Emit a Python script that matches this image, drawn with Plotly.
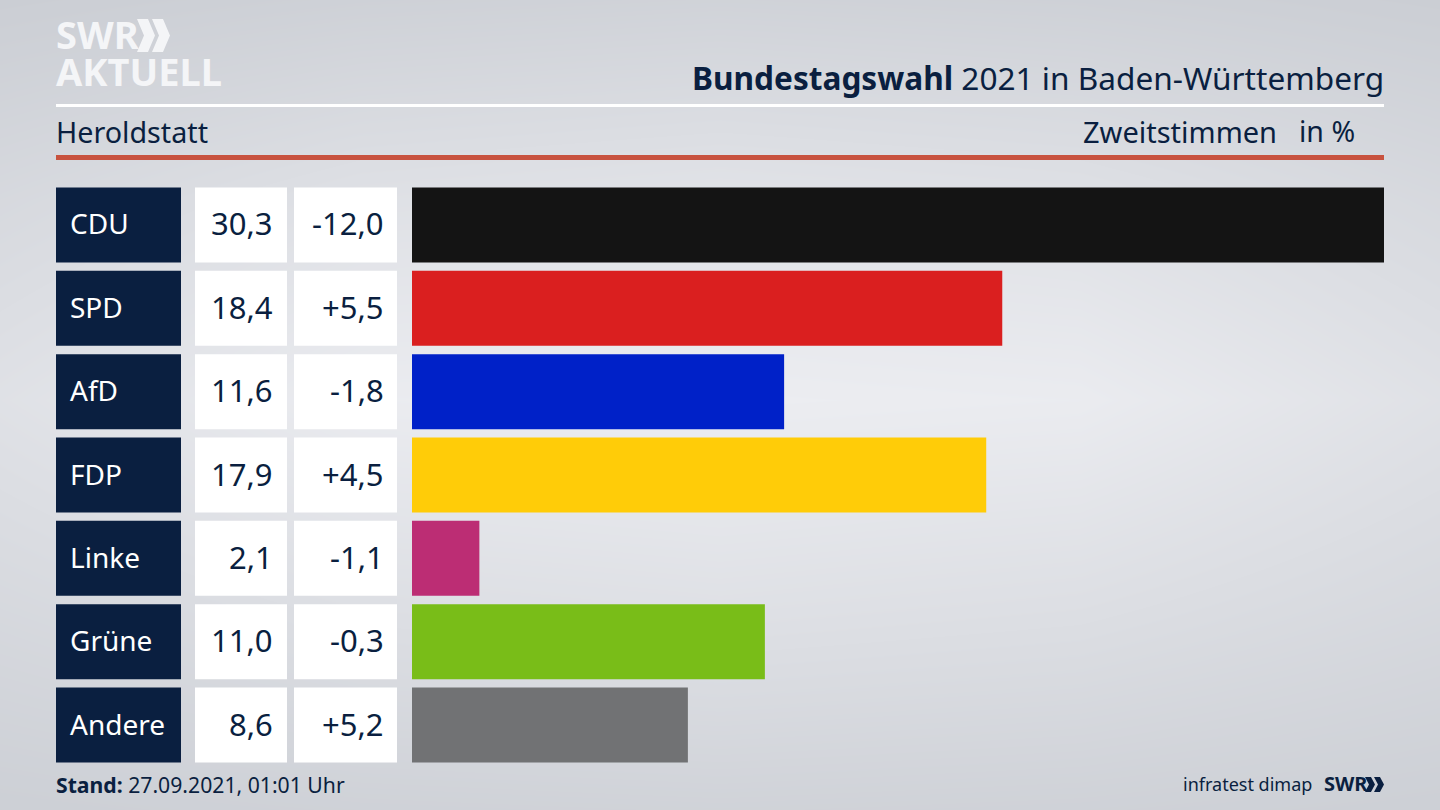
import plotly.graph_objects as go

# Daten
parteien = ['CDU', 'SPD', 'AfD', 'FDP', 'Linke', 'Grüne', 'Andere']
anteil = [30.3, 18.4, 11.6, 17.9, 2.1, 11.0, 8.6]
anteil_text = ['30,3', '18,4', '11,6', '17,9', '2,1', '11,0', '8,6']
diff_text = ['-12,0', '+5,5', '-1,8', '+4,5', '-1,1', '-0,3', '+5,2']
farben = ['#141414', '#da1f1f', '#0021c8', '#ffcc08', '#bc2d74', '#79bd18', '#717274']

DUNKEL = '#0a1f40'
LOGO = '#f4f5f7'
FONT = 'Noto Sans'
W, H = 1440, 810

# Hintergrund: hell in der Mitte, dunkler zu den Raendern
hg = [[0.05, 0.12, 0.15, 0.12, 0.05],
      [0.35, 0.55, 0.62, 0.55, 0.35],
      [0.62, 0.95, 1.00, 0.95, 0.62],
      [0.35, 0.60, 0.68, 0.60, 0.35],
      [0.00, 0.10, 0.15, 0.10, 0.00]]

def px_x(x):
    return x / W

def px_y(y):
    return 1 - y / H

fig = go.Figure()

# Hintergrund
fig.add_trace(go.Heatmap(z=hg, x=[0, 360, 720, 1080, 1440], y=[810, 600, 400, 200, 0],
                         colorscale=[[0, '#cbced4'], [1, '#ecedf1']], zmin=0, zmax=1,
                         zsmooth='best', showscale=False, hoverinfo='skip',
                         xaxis='x', yaxis='y'))

# Balken
fig.add_trace(go.Bar(x=anteil, y=list(range(len(parteien))), orientation='h', marker_color=farben,
                     marker_line_width=0, width=0.9, customdata=parteien,
                     xaxis='x2', yaxis='y2', showlegend=False))

shapes = []
annos = []

def text(x, y, s, size, anchor='left', color=DUNKEL, yref='paper'):
    # Annotationen haben etwa 2px Innenabstand
    x = x - 2 if anchor == 'left' else x + 2
    annos.append(dict(x=px_x(x), y=y if yref != 'paper' else px_y(y - 1), xref='paper', yref=yref, text=s,
                      yshift=1.5 if yref != 'paper' else 0,
                      showarrow=False, xanchor=anchor, yanchor='middle',
                      font=dict(family=FONT, size=size, color=color)))

def rect(x0, x1, y0, y1, color, yref='paper'):
    shapes.append(dict(type='rect', xref='paper', yref=yref, x0=px_x(x0), x1=px_x(x1), y0=y0, y1=y1,
                       fillcolor=color, line_width=0, layer='above'))

def chevron(x, y0, y1, breite, dicke, color):
    mitte = (y0 + y1) / 2
    punkte = [(x, y0), (x + dicke, y0), (x + breite, mitte), (x + dicke, y1), (x, y1), (x + breite - dicke, mitte)]
    pfad = 'M ' + ' L '.join(f'{px_x(a):.5f},{px_y(b):.5f}' for a, b in punkte) + ' Z'
    shapes.append(dict(type='path', xref='paper', yref='paper', path=pfad, fillcolor=color,
                       line_width=0, layer='above'))

# Tabelle links
for i, p in enumerate(parteien):
    rect(56, 181, i - 0.45, i + 0.45, DUNKEL, 'y2')
    rect(195, 287, i - 0.45, i + 0.45, '#ffffff', 'y2')
    rect(294, 397, i - 0.45, i + 0.45, '#ffffff', 'y2')
    text(70, i, p, 28, color='#ffffff', yref='y2')
    text(273, i, anteil_text[i], 31, 'right', yref='y2')
    text(384, i, diff_text[i], 31, 'right', yref='y2')

# Linien
rect(56, 1384, px_y(104), px_y(107), '#ffffff')
rect(56, 1384, px_y(155), px_y(160), '#c8523f')

# Logo oben
text(56, 35, '<b>SWR</b>', 38, color=LOGO)
text(56, 72, '<b>AKTUELL</b>', 38, color=LOGO)
chevron(137, 19, 52, 18, 11, LOGO)
chevron(152, 19, 52, 18, 11, LOGO)

# Kopf und Fuss
text(1384, 78, '<b>Bundestagswahl</b> 2021 in Baden-Württemberg', 31.6, 'right')
text(56, 132, 'Heroldstatt', 28.7)
text(1277, 132, 'Zweitstimmen', 29, 'right')
text(1355, 132, 'in %', 28.5, 'right')
text(56, 785, '<b>Stand:</b> 27.09.2021, 01:01 Uhr', 21.2)
text(1312, 785, 'infratest dimap', 18, 'right')
text(1324, 784, '<b>SWR</b>', 20)
chevron(1365, 777, 792, 10, 6, DUNKEL)
chevron(1374, 777, 792, 10, 6, DUNKEL)

fig.update_layout(
    width=W, height=H, margin=dict(l=0, r=0, t=0, b=0),
    paper_bgcolor='#dfe1e6', plot_bgcolor='rgba(0,0,0,0)', showlegend=False,
    shapes=shapes, annotations=annos,
    xaxis=dict(domain=[0, 1], range=[0, 1440], visible=False, fixedrange=True),
    yaxis=dict(domain=[0, 1], range=[810, 0], visible=False, fixedrange=True),
    xaxis2=dict(domain=[px_x(412), px_x(1384)], range=[0, 30.3], visible=False, anchor='y2'),
    yaxis2=dict(domain=[px_y(766.7), px_y(183.3)], range=[6.5, -0.5], visible=False, anchor='x2',
                tickmode='array', tickvals=list(range(7)), ticktext=parteien),
)

fig.write_html("out.html", config={'displayModeBar': False}, post_script="document.body.style.margin='0';")
